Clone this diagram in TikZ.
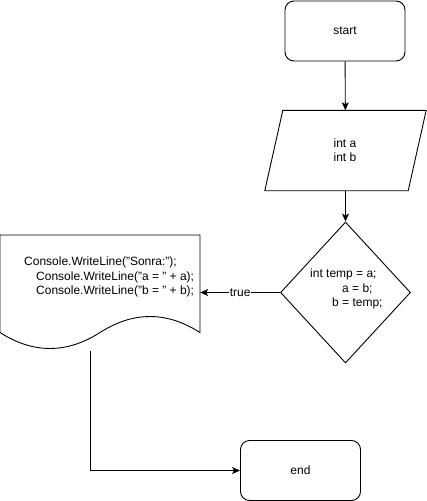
\documentclass[tikz,border=0pt]{standalone}
\usepackage{fontspec}
\setmainfont{Liberation Sans}
\usetikzlibrary{shapes.geometric,arrows.meta,calc}
\begin{document}
\begin{tikzpicture}[x=1pt,y=-1pt,
  every node/.style={font=\fontsize{12}{14.5}\selectfont, inner sep=0pt},
  term/.style={draw, rounded corners=9pt, minimum width=120pt, minimum height=60pt, line width=0.9pt},
  arr/.style={-{Stealth[length=8pt,width=7pt,inset=2pt]}, line width=0.9pt},
  outline/.style={draw, line width=0.9pt}
]
\useasboundingbox (0,0) rectangle (426,501);
% start
\node[term] (start) at (345,31) {start};
% input parallelogram
\node[minimum width=161pt, minimum height=80pt] (io) at (345.5,150.5) {};
\draw[outline] (io.south west) -- ($(io.north west)+(18,0)$) -- (io.north east) -- ($(io.south east)+(-18,0)$) -- cycle;
\node[align=center] (iotext) at (345,150) {int a\\int b};
% decision
\node[draw, diamond, minimum width=130pt, minimum height=141pt, line width=0.9pt] (dia) at (345.5,292.5) {};
\node[align=left, anchor=north west] (diatext) at (310,269) {int temp = a;\\\hspace*{32pt}a = b;\\\hspace*{22pt}b = temp;};
% document
\node[minimum width=200pt, minimum height=115pt] (doc) at (100,292.5) {};
\draw[outline] (0,235) -- (200,235) -- (200,332.5)
  .. controls (166.7,311.2) and (133.3,311.2) .. (100,332.5)
  .. controls (66.7,353.8) and (33.3,353.8) .. (0,332.5) -- cycle;
\node[align=left, anchor=north west] (doctext) at (24,257) {Console.WriteLine("Sonra:");\\\hspace*{12pt}Console.WriteLine("a = " + a);\\\hspace*{12pt}Console.WriteLine("b = " + b);};
% end
\node[term] (end) at (300.5,470.5) {end};
\coordinate (docout) at (90.5,351);
% connectors
\draw[arr] (start) -- (io);
\draw[arr] (io) -- (dia);
\draw[arr] (dia.west) -- node[fill=white, inner sep=1pt] (truelbl) {true} (doc.east |- dia.west);
\draw[arr] (docout) |- (end.west);
\end{tikzpicture}
\end{document}
